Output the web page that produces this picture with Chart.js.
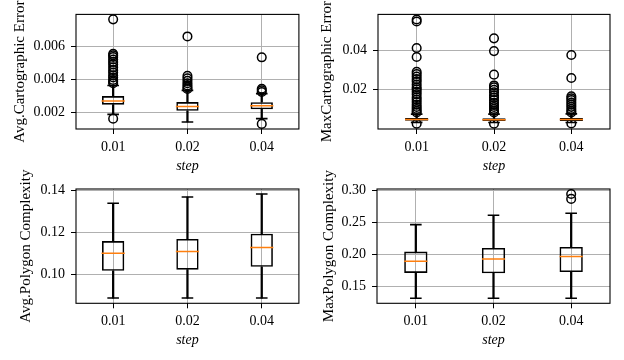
<!DOCTYPE html>
<html><head><meta charset="utf-8">
<script src="https://cdn.jsdelivr.net/npm/chart.js@4/dist/chart.umd.min.js"></script>
<style>
html,body{margin:0;padding:0;background:#fff;width:624px;height:360px;overflow:hidden}
.p{position:absolute}
</style></head><body>
<div class="p" style="left:0;top:0;width:312px;height:180px"><canvas id="c1"></canvas></div>
<div class="p" style="left:312px;top:0;width:312px;height:180px"><canvas id="c2"></canvas></div>
<div class="p" style="left:0;top:160px;width:312px;height:194px"><canvas id="c3"></canvas></div>
<div class="p" style="left:312px;top:160px;width:312px;height:194px"><canvas id="c4"></canvas></div>
<script>
const categories = ['0.01', '0.02', '0.04'];

// Avg. Cartographic Error
const avgCartoWhiskerLow  = [0.00186, 0.00140, 0.00160];
const avgCartoQ1          = [0.00245, 0.00208, 0.00217];
const avgCartoMedian      = [0.00268, 0.00234, 0.00238];
const avgCartoQ3          = [0.00297, 0.00261, 0.00260];
const avgCartoWhiskerHigh = [0.00362, 0.00332, 0.00312];
const avgCartoOutliers = [
  [0.00764, 0.00555, 0.00545, 0.00535, 0.00520, 0.00505, 0.00490, 0.00472, 0.00455, 0.00440, 0.00423, 0.00410, 0.00395, 0.00385, 0.00375, 0.00160],
  [0.00660, 0.00420, 0.00405, 0.00390, 0.00375, 0.00362, 0.00350, 0.00340],
  [0.00533, 0.00342, 0.00332, 0.00322, 0.00128]
];
const avgCartoTicks = [0.002, 0.004, 0.006];

// Max Cartographic Error
const maxCartoWhiskerLow  = [0.0032, 0.0031, 0.0031];
const maxCartoQ1          = [0.0040, 0.0039, 0.0039];
const maxCartoMedian      = [0.0046, 0.0045, 0.0046];
const maxCartoQ3          = [0.0054, 0.0053, 0.0054];
const maxCartoWhiskerHigh = [0.0074, 0.0074, 0.0075];
const maxCartoOutliers = [
  [0.0556, 0.0546, 0.0411, 0.0365, 0.0290, 0.0278, 0.0265, 0.0252, 0.0240, 0.0225, 0.0210, 0.0200, 0.0188, 0.0175, 0.0160, 0.0148, 0.0135, 0.0122, 0.0110, 0.0100, 0.0090, 0.0082, 0.0025],
  [0.0460, 0.0395, 0.0275, 0.0220, 0.0210, 0.0198, 0.0185, 0.0170, 0.0158, 0.0145, 0.0132, 0.0120, 0.0110, 0.0100, 0.0090, 0.0082, 0.0025],
  [0.0375, 0.0258, 0.0165, 0.0155, 0.0145, 0.0133, 0.0122, 0.0111, 0.0100, 0.0090, 0.0082, 0.0026]
];
const maxCartoTicks = [0.02, 0.04];

// Avg. Polygon Complexity
const avgPolyWhiskerLow  = [0.0889, 0.0889, 0.0889];
const avgPolyQ1          = [0.1019, 0.1024, 0.1038];
const avgPolyMedian      = [0.1102, 0.1111, 0.1130];
const avgPolyQ3          = [0.1160, 0.1170, 0.1195];
const avgPolyWhiskerHigh = [0.1340, 0.1370, 0.1384];
const avgPolyOutliers = [[], [], []];
const avgPolyTicks = [0.10, 0.12, 0.14];

// Max Polygon Complexity
const maxPolyWhiskerLow  = [0.1313, 0.1313, 0.1313];
const maxPolyQ1          = [0.1708, 0.1703, 0.1723];
const maxPolyMedian      = [0.1891, 0.1927, 0.1964];
const maxPolyQ3          = [0.2042, 0.2099, 0.2115];
const maxPolyWhiskerHigh = [0.2464, 0.2609, 0.2641];
const maxPolyOutliers = [[], [], [0.2942, 0.2865]];
const maxPolyTicks = [0.15, 0.20, 0.25, 0.30];

const FONT = "'Liberation Serif', 'Times New Roman', serif";
const framePlugin = {
  id: 'frame',
  afterDatasetsDraw(chart) {
    const {ctx, chartArea: a} = chart;
    ctx.save();
    ctx.strokeStyle = '#000';
    ctx.lineWidth = 1.1;
    ctx.strokeRect(a.left, a.top, a.right - a.left, a.bottom - a.top);
    ctx.restore();
  }
};

function panel(id, d, L) {
  const pts = (arr) => arr.map((v, i) => ({x: categories[i], y: v}));
  const outl = [];
  d.out.forEach((list, i) => list.forEach(v => outl.push({x: categories[i], y: v})));
  new Chart(document.getElementById(id), {
    type: 'bar',
    data: {
      labels: categories,
      datasets: [
        { type: 'line', data: pts(d.med), showLine: false, pointStyle: 'line', pointRadius: 11.6,
          pointBorderColor: '#ff7f0e', pointBorderWidth: 1.5, order: 0 },
        { type: 'line', data: outl, showLine: false, pointStyle: 'circle', pointRadius: 4.3,
          pointBorderColor: '#000', pointBackgroundColor: 'rgba(0,0,0,0)', pointBorderWidth: 1.5, order: 1 },
        { type: 'line', data: pts(d.lo).concat(pts(d.hi)), showLine: false, pointStyle: 'line', pointRadius: 5.8,
          pointBorderColor: '#000', pointBorderWidth: 1.6, order: 1 },
        { data: d.q1.map((v, i) => [v, d.q3[i]]), grouped: false, barPercentage: 0.3, categoryPercentage: 1,
          backgroundColor: 'rgba(0,0,0,0)', borderColor: '#000', borderWidth: 1.6, borderSkipped: false, order: 2 },
        { data: d.lo.map((v, i) => [v, d.q1[i]]), grouped: false, barThickness: 1.6,
          backgroundColor: '#000', borderWidth: 0, order: 3 },
        { data: d.q3.map((v, i) => [v, d.hi[i]]), grouped: false, barThickness: 1.6,
          backgroundColor: '#000', borderWidth: 0, order: 3 }
      ]
    },
    options: {
      responsive: true, maintainAspectRatio: false, devicePixelRatio: 1, animation: false, events: [],
      layout: { padding: { top: L.top, right: L.right, left: 0, bottom: 0 } },
      plugins: { legend: { display: false }, tooltip: { enabled: false } },
      scales: {
        x: {
          type: 'category', offset: true,
          grid: { display: true, offset: false, color: '#b0b0b0', lineWidth: 1, tickColor: '#000', tickLength: 5 },
          border: { display: false },
          ticks: { color: '#000', font: { family: FONT, size: 14 }, padding: 5, maxRotation: 0 },
          title: { display: true, text: 'step', color: '#000', font: { family: FONT, size: 14, style: 'italic' }, padding: { top: 0, bottom: 5 } },
          afterFit: s => { s.height = L.xh; }
        },
        y: {
          type: 'linear', min: d.min, max: d.max,
          afterBuildTicks: s => { s.ticks = d.ticks.map(v => ({ value: v })); },
          grid: { display: true, color: '#b0b0b0', lineWidth: 1, tickColor: '#000', tickLength: 5 },
          border: { display: false },
          ticks: { color: '#000', font: { family: FONT, size: 14 }, padding: 6, callback: v => v.toFixed(d.dec) },
          title: { display: true, text: d.title, color: '#000', font: { family: FONT, size: 15 }, padding: { top: L.tp, bottom: 0 } },
          afterFit: s => { s.width = L.yw; }
        }
      }
    },
    plugins: [framePlugin]
  });
}

panel('c1', { lo: avgCartoWhiskerLow, q1: avgCartoQ1, med: avgCartoMedian, q3: avgCartoQ3, hi: avgCartoWhiskerHigh,
  out: avgCartoOutliers, ticks: avgCartoTicks, min: 0.00097, max: 0.00794, dec: 3, title: 'Avg.Cartographic Error' },
  { top: 14, right: 4, xh: 51, yw: 76, tp: 11 });
panel('c2', { lo: maxCartoWhiskerLow, q1: maxCartoQ1, med: maxCartoMedian, q3: maxCartoQ3, hi: maxCartoWhiskerHigh,
  out: maxCartoOutliers, ticks: maxCartoTicks, min: -0.0002, max: 0.0582, dec: 2, title: 'MaxCartographic Error' },
  { top: 14, right: 14, xh: 51, yw: 66, tp: 5.7 });
panel('c3', { lo: avgPolyWhiskerLow, q1: avgPolyQ1, med: avgPolyMedian, q3: avgPolyQ3, hi: avgPolyWhiskerHigh,
  out: avgPolyOutliers, ticks: avgPolyTicks, min: 0.0864, max: 0.1408, dec: 2, title: 'Avg.Polygon Complexity' },
  { top: 29, right: 4, xh: 50.7, yw: 76, tp: 17 });
panel('c4', { lo: maxPolyWhiskerLow, q1: maxPolyQ1, med: maxPolyMedian, q3: maxPolyQ3, hi: maxPolyWhiskerHigh,
  out: maxPolyOutliers, ticks: maxPolyTicks, min: 0.1234, max: 0.302, dec: 2, title: 'MaxPolygon Complexity' },
  { top: 29, right: 14, xh: 50.7, yw: 65, tp: 7.7 });
</script>
</body></html>
